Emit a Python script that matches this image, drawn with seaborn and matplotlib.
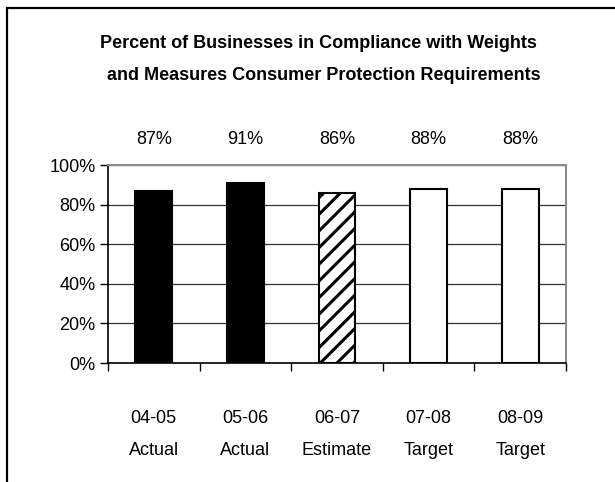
import seaborn as sns
import matplotlib.pyplot as plt
from matplotlib.lines import Line2D
from matplotlib.ticker import FixedLocator

# 数据
years = ['04-05', '05-06', '06-07', '07-08', '08-09']
kinds = ['Actual', 'Actual', 'Estimate', 'Target', 'Target']
values = [87, 91, 86, 88, 88]
bar_fill = ['black', 'black', 'white', 'white', 'white']
bar_hatch = ['', '', '//', '', '']

sns.set_theme(style='white')
plt.rcParams['font.family'] = ['Liberation Sans', 'DejaVu Sans']
plt.rcParams['hatch.linewidth'] = 2.2
plt.rcParams['text.color'] = 'black'
plt.rcParams['xtick.color'] = 'black'
plt.rcParams['ytick.color'] = 'black'

fig = plt.figure(figsize=(6.15, 4.82), dpi=100)
ax = fig.add_axes([108 / 615, 1 - 363 / 482, 458 / 615, 198 / 482])

labels = [f'{y}\n{k}' for y, k in zip(years, kinds)]
sns.barplot(x=labels, y=values, width=0.4, color='white', ax=ax, zorder=3)

for p, fc, h in zip(ax.patches, bar_fill, bar_hatch):
    p.set_facecolor(fc)
    p.set_edgecolor('black')
    p.set_linewidth(1.5)
    p.set_hatch(h)

# 数值标签
for i, v in enumerate(values):
    ax.text(i, 113, f'{v}%', ha='center', va='center', fontsize=13, color='black')

ax.set_ylim(0, 100)
ax.set_xlim(-0.5, len(values) - 0.5)
ax.set_yticks(range(0, 101, 20))
ax.set_yticklabels([f'{t}%' for t in range(0, 101, 20)], fontsize=13)
ax.yaxis.grid(True, color='#333333', linewidth=0.9, zorder=0)
ax.set_axisbelow(True)

ax.set_xticks(range(len(labels)))
ax.set_xticklabels(labels, fontsize=13, linespacing=2.1)
ax.xaxis.set_minor_locator(FixedLocator([i - 0.5 for i in range(len(values) + 1)]))
ax.tick_params(axis='x', which='major', length=0, pad=34, labelcolor='black')
ax.tick_params(axis='x', which='minor', length=6, width=1, color='black', direction='out', bottom=True)
ax.tick_params(axis='y', length=6, width=1, color='black', direction='out', left=True, pad=3,
               labelcolor='black')
ax.set_xlabel('')
ax.set_ylabel('')

for s in ['left', 'bottom']:
    ax.spines[s].set_color('black')
    ax.spines[s].set_linewidth(1.2)
for s in ['top', 'right']:
    ax.spines[s].set_color('#8c8c8c')
    ax.spines[s].set_linewidth(1.5)

fig.text(0.517, 1 - 43 / 482, 'Percent of Businesses in Compliance with Weights',
         ha='center', va='center', fontsize=13, fontweight='bold', color='black')
fig.text(0.527, 1 - 76 / 482, 'and Measures Consumer Protection Requirements',
         ha='center', va='center', fontsize=13, fontweight='bold', color='black')

# 外框（右侧和底部被裁掉）
fig.add_artist(Line2D([6.5 / 615, 1.0], [1 - 7.5 / 482] * 2, color='black', linewidth=1.6,
                      transform=fig.transFigure))
fig.add_artist(Line2D([6.5 / 615] * 2, [0, 1 - 7.5 / 482], color='black', linewidth=1.6,
                      transform=fig.transFigure))

fig.savefig('out.png', dpi=100)
